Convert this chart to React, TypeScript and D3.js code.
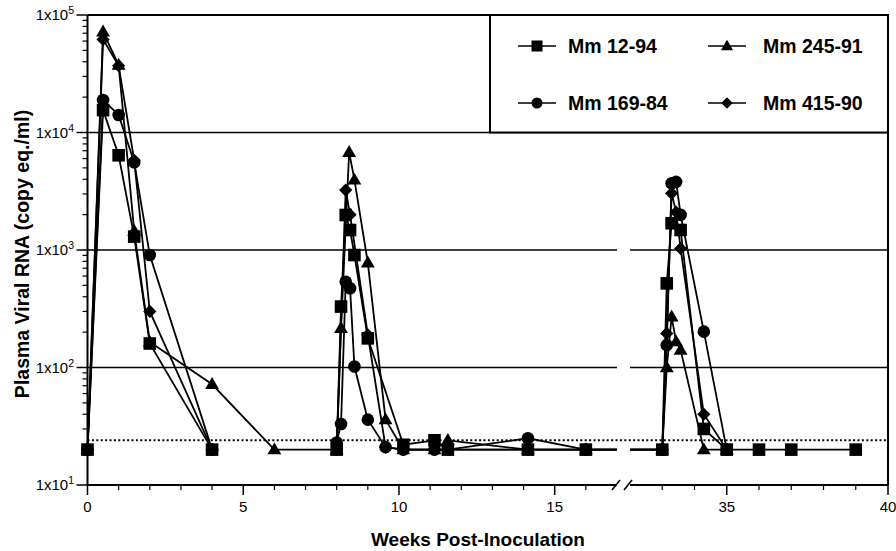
import React from "react";
import * as d3 from "d3";

const W = 896;
const H = 551;

// ---- data (weeks post-inoculation, plasma viral RNA copy eq./ml); null = gap ----
const weeks1294 = [0, 0.5, 1, 1.5, 2, 4, 6, 8, 8.14, 8.29, 8.43, 8.57, 9, 10.14, 11.14, 11.57, 14.14, 16, 33, 33.14, 33.29, 33.57, 34.29, 35, 36, 37, 39];
const vals1294 = [20, 15500, 6400, 1300, 160, 20, null, 20, 330, 1985, 1480, 906, 177, 22, 24, 20, 20, 20, 20, 520, 1690, 1480, 30, 20, 20, 20, 20];

const weeks16984 = [0, 0.5, 1, 1.5, 2, 4, 6, 8, 8.14, 8.29, 8.43, 8.57, 9, 9.57, 10.14, 11.14, 11.57, 14.14, 16, 33, 33.14, 33.29, 33.43, 33.57, 34.29, 35];
const vals16984 = [20, 18900, 14100, 5570, 906, 20, null, 23, 33, 537, 472, 102, 36, 21, 20, 20, 20, 25, 20, 20, 155, 3700, 3800, 1990, 202, 20];

const weeks24591 = [0, 0.5, 1, 1.5, 2, 4, 6, 8, 8.14, 8.4, 8.57, 9, 9.57, 10.14, 11.14, 11.57, 14.14, 16, 33, 33.14, 33.29, 33.43, 33.57, 34.29, 35];
const vals24591 = [20, 72000, 37500, 1450, 165, 72, 20, 20, 216, 6800, 3950, 780, 36, 20, 20, 24, 20, 20, 20, 100, 270, 166, 141, 20, 20];

const weeks41590 = [0, 0.5, 1, 1.5, 2, 4, 6, 8, 8.29, 8.43, 9, 9.57, 10.14, 11.14, 11.57, 14.14, 16, 33, 33.14, 33.29, 33.43, 33.57, 34.29, 35];
const vals41590 = [20, 62000, 37000, 5800, 300, 20, null, 20, 3240, 2000, 190, 21, 20, 20, 20, 20, 20, 20, 195, 3040, 2100, 1030, 40, 20];

const seriesNames = ["Mm 12-94", "Mm 169-84", "Mm 245-91", "Mm 415-90"];
const seriesShapes = ["square", "circle", "triangle", "diamond"];

const detectionLimit = 24;
const yMajorTicks = [10, 100, 1000, 10000, 100000];
const yTickExponents = ["1", "2", "3", "4", "5"];
const xMajorTicks = [0, 5, 10, 15, 35, 40];
const xTickLabels = ["0", "5", "10", "15", "35", "40"];
const xMinorTicks = [1, 2, 3, 4, 6, 7, 8, 9, 11, 12, 13, 14, 16, 33, 34, 36, 37, 38, 39];
const breakStart = 17;
const breakEnd = 32;

const FONT = "'Liberation Sans', Arial, Helvetica, sans-serif";

function markerPath(shape: string, s: number): string {
  if (shape === "square") return `M${-s},${-s}H${s}V${s}H${-s}Z`;
  if (shape === "triangle") return `M0,${-s * 1.15}L${s * 1.1},${s * 0.75}L${-s * 1.1},${s * 0.75}Z`;
  if (shape === "diamond") return `M0,${-s * 1.05}L${s * 1.05},0L0,${s * 1.05}L${-s * 1.05},0Z`;
  // circle
  return `M${s},0A${s},${s} 0 1,1 ${-s},0A${s},${s} 0 1,1 ${s},0Z`;
}

export default function App() {
  const x = d3.scaleLinear().domain([0, breakStart, breakEnd, 40]).range([87.5, 617, 630, 888]);
  const y = d3.scaleLog().domain([10, 1e5]).range([485, 15]);

  const allSeries = [
    { weeks: weeks1294, vals: vals1294 },
    { weeks: weeks16984, vals: vals16984 },
    { weeks: weeks24591, vals: vals24591 },
    { weeks: weeks41590, vals: vals41590 },
  ];

  const line = d3
    .line<[number, number | null]>()
    .defined((d) => d[1] != null)
    .x((d) => x(d[0]))
    .y((d) => y(d[1] as number));

  const x0 = x(0);
  const xR = x(40);
  const yTop = y(1e5);
  const yBot = y(10);

  const minorY: number[] = [];
  for (let e = 1; e < 5; e++) {
    for (let k = 2; k <= 9; k++) minorY.push(k * Math.pow(10, e));
  }

  const legendTop = yTop;
  const legendBottom = y(1e4);
  const legendLeft = 490;
  const legendRows = [46, 103];
  const legendCols = [{ m: 537, t: 568 }, { m: 727, t: 763 }];

  return (
    <svg width={W} height={H} style={{ display: "block", position: "absolute", left: 0, top: 0, background: "#fff" }}>
      <rect x={0} y={0} width={W} height={H} fill="#fff" />
      {/* gridlines */}
      {[100, 1000, 10000].map((v) => (
        <line key={v} x1={x0} x2={xR} y1={y(v)} y2={y(v)} stroke="#000" strokeWidth={1.3} />
      ))}
      {/* data lines */}
      {allSeries.map((s, i) => (
        <path
          key={i}
          d={line(s.weeks.map((w, j) => [w, s.vals[j]] as [number, number | null])) || ""}
          fill="none"
          stroke="#000"
          strokeWidth={1.8}
        />
      ))}
      {/* axis break cover */}
      <rect x={x(breakStart)} y={y(1e4) + 2} width={x(breakEnd) - x(breakStart)} height={yBot - y(1e4) - 2} fill="#fff" />
      {/* detection limit */}
      <line x1={x0} x2={xR} y1={y(detectionLimit)} y2={y(detectionLimit)} stroke="#000" strokeWidth={2} strokeDasharray="2,2.4" />
      {/* markers */}
      {allSeries.map((s, i) =>
        s.weeks.map((w, j) =>
          s.vals[j] == null ? null : (
            <path
              key={`${i}-${j}`}
              d={markerPath(seriesShapes[i], 6.3)}
              transform={`translate(${x(w)},${y(s.vals[j] as number)})`}
              fill="#000"
            />
          )
        )
      )}
      {/* frame */}
      <line x1={x0} x2={xR} y1={yTop} y2={yTop} stroke="#000" strokeWidth={2} />
      <line x1={xR} x2={xR} y1={yTop} y2={yBot} stroke="#000" strokeWidth={2} />
      <line x1={x0} x2={x0} y1={yTop} y2={yBot} stroke="#000" strokeWidth={2} />
      <line x1={x0} x2={x(breakStart)} y1={yBot} y2={yBot} stroke="#000" strokeWidth={2} />
      <line x1={x(breakEnd)} x2={xR} y1={yBot} y2={yBot} stroke="#000" strokeWidth={2} />
      {/* break slashes */}
      {[x(breakStart), x(breakEnd)].map((bx, i) => (
        <line key={i} x1={bx - 5 + (i === 0 ? 0 : -1)} y1={yBot + 5} x2={bx + 3 + (i === 0 ? 0 : -1)} y2={yBot - 5} stroke="#000" strokeWidth={1.6} />
      ))}
      {/* y ticks */}
      {yMajorTicks.map((v, i) => (
        <g key={v}>
          <line x1={x0 - 11} x2={x0} y1={y(v)} y2={y(v)} stroke="#000" strokeWidth={1.5} />
          <text x={74} y={y(v) + 5} textAnchor="end" fontFamily={FONT} fontSize={15} fill="#000">
            <tspan>1x10</tspan>
            <tspan dy={-6} fontSize={10.5}>{yTickExponents[i]}</tspan>
          </text>
        </g>
      ))}
      {minorY.map((v) => (
        <line key={v} x1={x0 - 5} x2={x0} y1={y(v)} y2={y(v)} stroke="#000" strokeWidth={1.2} />
      ))}
      {/* x ticks */}
      {xMajorTicks.map((w, i) => (
        <g key={w}>
          <line x1={x(w)} x2={x(w)} y1={yBot} y2={yBot + 10} stroke="#000" strokeWidth={1.5} />
          <text x={x(w)} y={yBot + 27} textAnchor="middle" fontFamily={FONT} fontSize={15} fill="#000">
            {xTickLabels[i]}
          </text>
        </g>
      ))}
      {xMinorTicks.map((w) => (
        <line key={w} x1={x(w)} x2={x(w)} y1={yBot} y2={yBot + 5} stroke="#000" strokeWidth={1.2} />
      ))}
      {/* axis titles */}
      <text x={478} y={546} textAnchor="middle" fontFamily={FONT} fontWeight="bold" fontSize={19} fill="#000">
        Weeks Post-Inoculation
      </text>
      <text
        transform={`translate(29,${(yTop + yBot) / 2 + 4}) rotate(-90)`}
        textAnchor="middle"
        fontFamily={FONT}
        fontWeight="bold"
        fontSize={19.5}
        fill="#000"
      >
        Plasma Viral RNA (copy eq./ml)
      </text>
      {/* legend */}
      <rect x={legendLeft} y={legendTop} width={xR - legendLeft} height={legendBottom - legendTop} fill="#fff" stroke="#000" strokeWidth={2} />
      {seriesNames.map((name, i) => {
        const row = legendRows[i % 2];
        const col = legendCols[Math.floor(i / 2)];
        return (
          <g key={name}>
            <line x1={col.m - 19} x2={col.m + 19} y1={row} y2={row} stroke="#000" strokeWidth={1.6} />
            <path d={markerPath(seriesShapes[i], 5.5)} transform={`translate(${col.m},${row})`} fill="#000" />
            <text x={col.t} y={row + 7} fontFamily={FONT} fontWeight="bold" fontSize={19.5} fill="#000">
              {name}
            </text>
          </g>
        );
      })}
    </svg>
  );
}
